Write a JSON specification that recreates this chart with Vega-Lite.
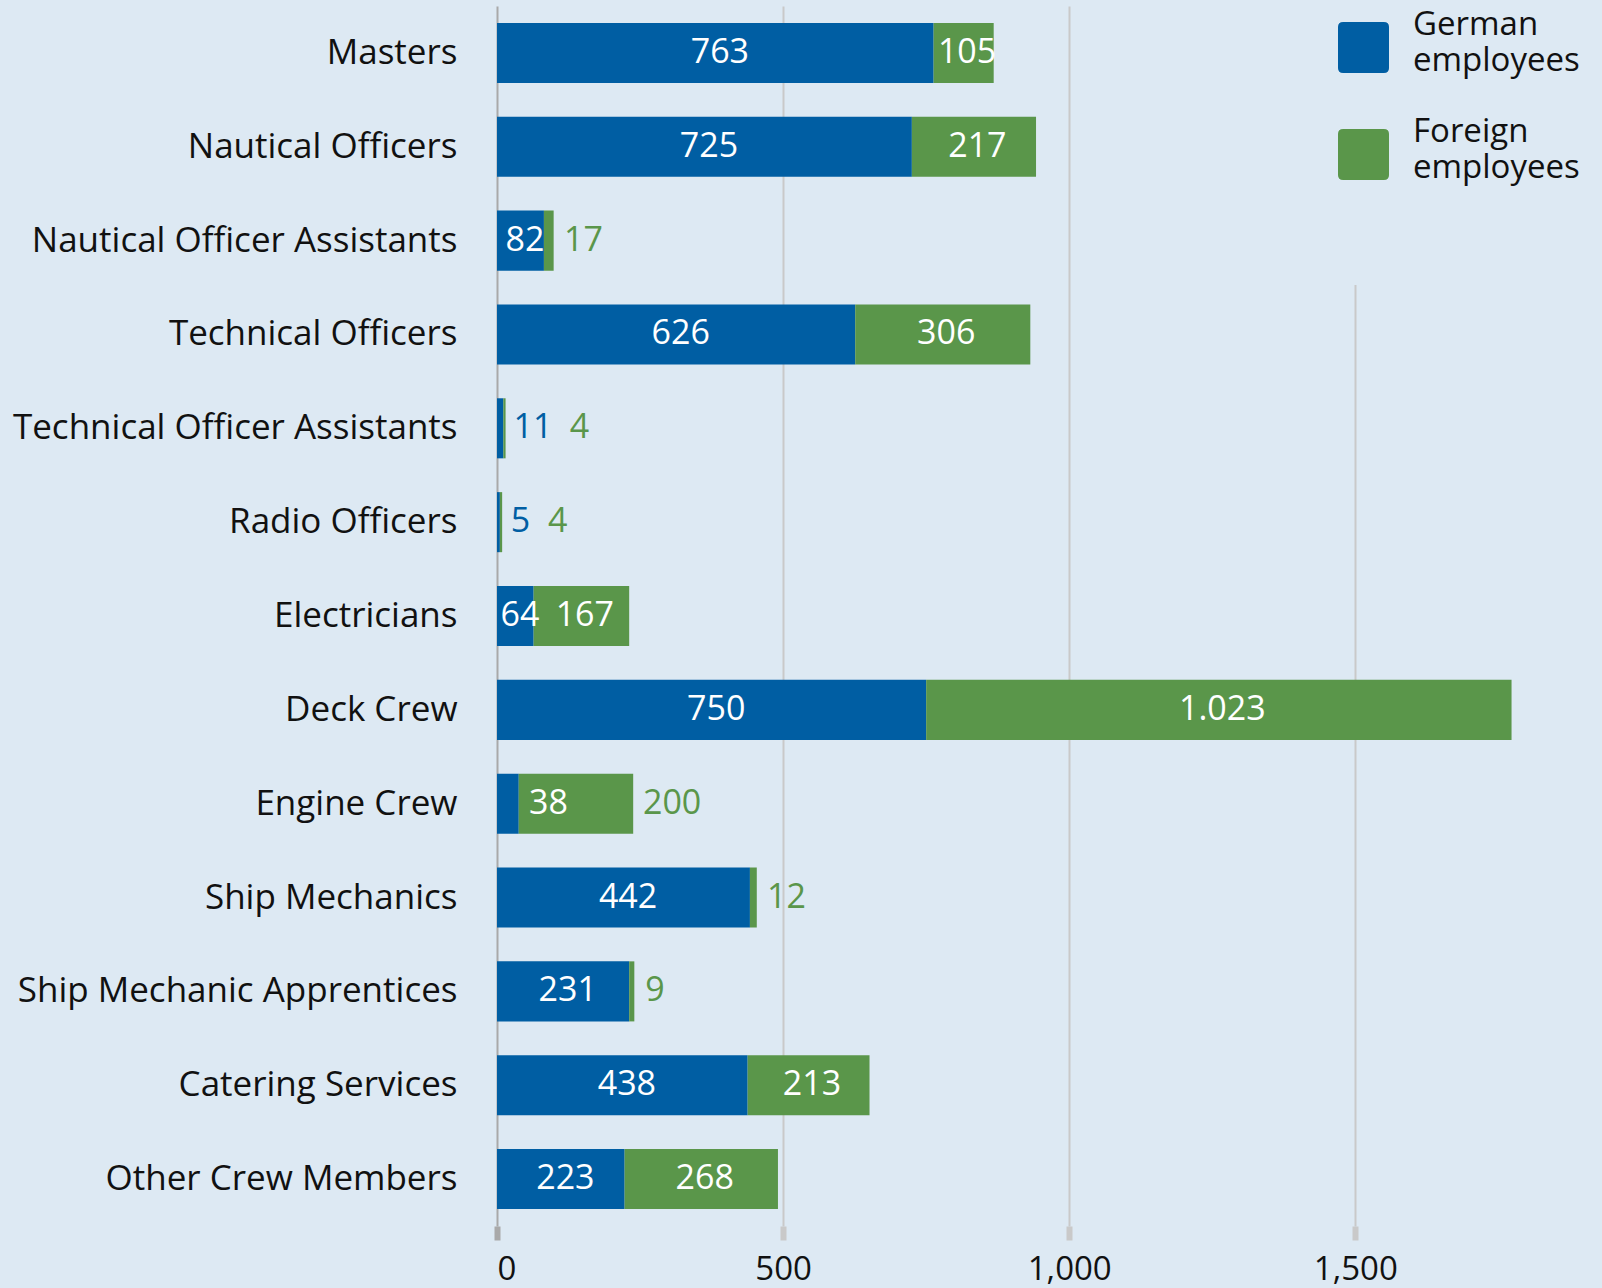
{
  "$schema": "https://vega.github.io/schema/vega-lite/v6.json",
  "autosize": "none",
  "width": 1030,
  "height": 1220,
  "padding": {"left": 497, "top": 6, "right": 75, "bottom": 62},
  "background": "#dde9f3",
  "config": {"view": {"stroke": null}, "font": "Open Sans"},
  "data": {"values": [
    {"category": "Masters", "German": 763, "Foreign": 105},
    {"category": "Nautical Officers", "German": 725, "Foreign": 217},
    {"category": "Nautical Officer Assistants", "German": 82, "Foreign": 17},
    {"category": "Technical Officers", "German": 626, "Foreign": 306},
    {"category": "Technical Officer Assistants", "German": 11, "Foreign": 4},
    {"category": "Radio Officers", "German": 5, "Foreign": 4},
    {"category": "Electricians", "German": 64, "Foreign": 167},
    {"category": "Deck Crew", "German": 750, "Foreign": 1023},
    {"category": "Engine Crew", "German": 38, "Foreign": 200},
    {"category": "Ship Mechanics", "German": 442, "Foreign": 12},
    {"category": "Ship Mechanic Apprentices", "German": 231, "Foreign": 9},
    {"category": "Catering Services", "German": 438, "Foreign": 213},
    {"category": "Other Crew Members", "German": 223, "Foreign": 268}
  ]},
  "encoding": {
    "y": {
      "field": "category", "type": "nominal", "sort": null,
      "scale": {"paddingInner": 0.36, "paddingOuter": 0.18},
      "axis": {"title": null, "ticks": false, "domain": false, "labelFontSize": 35, "labelColor": "#111111", "labelPadding": 40, "labelLimit": 600}
    }
  },
  "layer": [
    {
      "transform": [
        {"fold": ["German", "Foreign"], "as": ["group", "value"]},
        {"calculate": "datum.group == 'German' ? 'German employees' : 'Foreign employees'", "as": "series"},
        {"calculate": "datum.group == 'German' ? 0 : 1", "as": "ord"}
      ],
      "mark": {"type": "bar"},
      "encoding": {
        "x": {
          "field": "value", "type": "quantitative", "stack": "zero",
          "scale": {"domain": [0, 1800], "nice": false},
          "axis": {
            "title": null, "values": [0, 500, 1000, 1500], "format": ",d",
            "domain": false, "grid": true, "gridWidth": 2,
            "gridColor": {"condition": {"test": "datum.value === 0", "value": "#a9a9a9"}, "value": "#c9c9c9"},
            "tickColor": {"condition": {"test": "datum.value === 0", "value": "#a9a9a9"}, "value": "#c9c9c9"},
            "tickSize": 14, "tickWidth": 6, "labelPadding": 13,
            "labelFontSize": 33, "labelColor": "#111111"
          }
        },
        "color": {
          "field": "series", "type": "nominal",
          "scale": {"domain": ["German employees", "Foreign employees"], "range": ["#005ea3", "#5a964a"]},
          "legend": {
            "title": null, "orient": "none", "legendX": 741, "legendY": -84,
            "fillColor": "#dde9f3", "padding": 100,
            "symbolType": "M-0.8,-1L0.8,-1Q1,-1,1,-0.8L1,0.8Q1,1,0.8,1L-0.8,1Q-1,1,-1,0.8L-1,-0.8Q-1,-1,-0.8,-1Z",
            "symbolSize": 2601, "symbolStrokeWidth": 0, "symbolOpacity": 1,
            "labelFontSize": 33, "labelColor": "#111111", "labelOffset": 24,
            "labelExpr": "split(datum.label, ' ')", "labelLimit": 400,
            "rowPadding": 37,
            "encode": {"labels": {"update": {"lineHeight": {"value": 36}, "dy": {"value": -23}}}}
          }
        },
        "order": {"field": "ord", "type": "quantitative"}
      }
    },
    {
      "transform": [
        {"calculate": "datum.German >= 60 ? datum.German / 2 + 8 : datum.German + 20 + length('' + datum.German) * 16", "as": "gx"},
        {"calculate": "replace(format(datum.German, ','), ',', '.')", "as": "glabel"}
      ],
      "mark": {"type": "text", "align": "center", "baseline": "middle", "fontSize": 34},
      "encoding": {
        "x": {"field": "gx", "type": "quantitative"},
        "text": {"field": "glabel"},
        "color": {"condition": {"test": "datum.German >= 60 || datum.Foreign >= 100", "value": "#ffffff"}, "value": "#005ea3"}
      }
    },
    {
      "transform": [
        {"calculate": "datum.German >= 60 && datum.Foreign >= 60", "as": "finside"},
        {"calculate": "datum.finside ? datum.German + datum.Foreign / 2 + 6 : max(datum.German + datum.Foreign + 20 + length('' + datum.Foreign) * 16, datum.German >= 60 ? 0 : datum.German + 20 + length('' + datum.German) * 32 + 33 + length('' + datum.Foreign) * 16)", "as": "fx"},
        {"calculate": "replace(format(datum.Foreign, ','), ',', '.')", "as": "flabel"}
      ],
      "mark": {"type": "text", "align": "center", "baseline": "middle", "fontSize": 34},
      "encoding": {
        "x": {"field": "fx", "type": "quantitative"},
        "text": {"field": "flabel"},
        "color": {"condition": {"test": "datum.finside", "value": "#ffffff"}, "value": "#5a964a"}
      }
    }
  ]
}
